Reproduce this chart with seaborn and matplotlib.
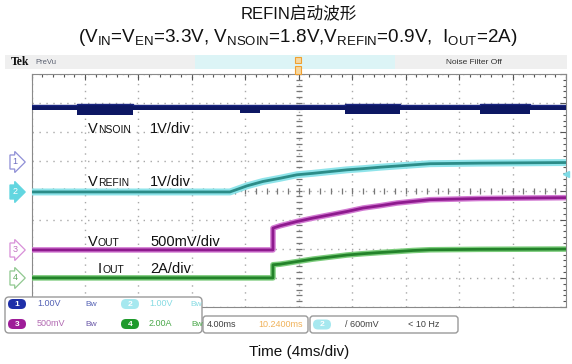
import numpy as np
import pandas as pd
import matplotlib
matplotlib.use("Agg")
import matplotlib.pyplot as plt
import seaborn as sns
from matplotlib.patches import FancyBboxPatch, Rectangle

# ---------------- data ----------------
# time in ms relative to screen centre (4 ms/div, 10 div)
t_refin = [-20, -5.15, -3.87, -2.68, -1.40, -0.13, 1.07, 2.34, 3.61, 4.81, 6.08, 8.55, 9.82, 13.56, 20]
v_refin = [0.0, 0.0, 0.21, 0.36, 0.47, 0.59, 0.64, 0.70, 0.76, 0.80, 0.85, 0.93, 0.97, 0.99, 1.01]

t_vout = [-20, -1.93, -1.93, -1.40, -0.13, 1.07, 2.34, 3.61, 4.81, 6.08, 7.35, 8.55, 9.82, 13.56, 20]
v_vout = [0.0, 0.0, 0.374, 0.414, 0.488, 0.547, 0.603, 0.660, 0.719, 0.759, 0.805, 0.833, 0.862, 0.883, 0.897]

t_iout = [-20, -1.93, -1.93, -1.40, -0.13, 1.07, 2.34, 3.61, 4.81, 6.08, 7.35, 8.55, 9.82, 13.56, 20]
i_iout = [0.0, 0.0, 0.90, 0.94, 1.12, 1.29, 1.43, 1.57, 1.66, 1.74, 1.81, 1.88, 1.93, 1.96, 1.98]

t_nsoin = [-20, -16.6, -16.6, -12.4, -12.4, -4.4, -4.4, -2.9, -2.9, 3.46, 3.46, 7.58, 7.58,
           13.56, 13.56, 17.3, 17.3, 20]
v_nsoin_hi = [1.94, 1.94, 1.98, 1.98, 1.94, 1.94, 1.97, 1.97, 1.94, 1.94, 1.98, 1.98, 1.94,
              1.94, 1.99, 1.99, 1.94, 1.94]
v_nsoin_lo = [1.77, 1.77, 1.62, 1.62, 1.77, 1.77, 1.68, 1.68, 1.77, 1.77, 1.66, 1.66, 1.77,
              1.77, 1.66, 1.66, 1.77, 1.77]

# channel settings: units per division and ground-reference position (div)
ch_scale = {"NSOIN": 1.0, "REFIN": 1.0, "VOUT": 0.5, "IOUT": 2.0}
ch_offset = {"NSOIN": 0.98, "REFIN": -0.05, "VOUT": -2.04, "IOUT": -3.0}
trigger_level = 0.6  # V on channel 2

# ---------------- style ----------------
sns.set_theme(style="white")
plt.rcParams["font.family"] = ["Liberation Sans", "Noto Sans CJK SC", "DejaVu Sans"]
plt.rcParams["mathtext.fontset"] = "custom"
plt.rcParams["mathtext.rm"] = "Liberation Sans"
plt.rcParams["mathtext.it"] = "Liberation Sans:italic"
plt.rcParams["mathtext.bf"] = "Liberation Sans:bold"

W, H = 572, 364
fig = plt.figure(figsize=(W / 100, H / 100), dpi=100)
fig.patch.set_facecolor("white")

# main graticule axes
L, R, T, B = 31.5, 566.0, 74.0, 307.0
ax = fig.add_axes([L / W, 1 - B / H, (R - L) / W, (B - T) / H])
ax.set_xlim(-20, 20)
ax.set_ylim(-4, 4)
ax.set_facecolor("white")
ax.set_xticks(np.arange(-20, 21, 4))
ax.set_yticks(np.arange(-4, 5, 1))
ax.set_xticks(np.arange(-20, 20.01, 0.8), minor=True)
ax.set_yticks(np.arange(-4, 4.01, 0.2), minor=True)
ax.set_xticklabels([])
ax.set_yticklabels([])
ax.tick_params(which="both", direction="in", top=True, right=True, color="#555555", width=0.8)
ax.tick_params(which="major", length=4)
ax.tick_params(which="minor", length=2.5)
for s in ax.spines.values():
    s.set_color("#8a8a8a")
    s.set_linewidth(0.8)
ax.grid(True, which="major", color="#a8a8a8", linestyle=(0, (1, 4)), linewidth=1.0)

# centre crosshair ticks
cx = np.arange(-20, 20.01, 0.8)
cy = np.arange(-4, 4.01, 0.2)
ax.plot(cx, np.zeros_like(cx), ls="", marker="|", ms=5, color="#777777", mew=0.9, zorder=1)
ax.plot(np.zeros_like(cy), cy, ls="", marker="_", ms=5, color="#777777", mew=0.9, zorder=1)


def to_div(vals, ch):
    return np.asarray(vals, dtype=float) / ch_scale[ch] + ch_offset[ch]


# VNSOIN band (channel 1)
df1 = pd.DataFrame({"t": t_nsoin, "hi": to_div(v_nsoin_hi, "NSOIN"), "lo": to_div(v_nsoin_lo, "NSOIN")})
ax.fill_between(df1["t"], df1["lo"], df1["hi"], color="#0d1763", lw=0, zorder=3)
sns.lineplot(data=df1, x="t", y="hi", ax=ax, color="#1a2680", lw=1.0, estimator=None, sort=False, zorder=3)

# VREFIN (channel 2)
df2 = pd.DataFrame({"t": t_refin, "y": to_div(v_refin, "REFIN")})
sns.lineplot(data=df2, x="t", y="y", ax=ax, color="#8fe4ea", lw=5, estimator=None, sort=False, zorder=3)
sns.lineplot(data=df2, x="t", y="y", ax=ax, color="#2c8c88", lw=2.0, estimator=None, sort=False, zorder=4)

# VOUT (channel 3)
df3 = pd.DataFrame({"t": t_vout, "y": to_div(v_vout, "VOUT")})
sns.lineplot(data=df3, x="t", y="y", ax=ax, color="#d27ad2", lw=4, estimator=None, sort=False, zorder=3)
sns.lineplot(data=df3, x="t", y="y", ax=ax, color="#8e1a8e", lw=2.0, estimator=None, sort=False, zorder=4)

# IOUT (channel 4)
df4 = pd.DataFrame({"t": t_iout, "y": to_div(i_iout, "IOUT")})
sns.lineplot(data=df4, x="t", y="y", ax=ax, color="#7ccc7c", lw=4, estimator=None, sort=False, zorder=3)
sns.lineplot(data=df4, x="t", y="y", ax=ax, color="#23822a", lw=2.0, estimator=None, sort=False, zorder=4)

# trigger level marker on the right edge
ax.plot([20], [trigger_level / ch_scale["REFIN"] + ch_offset["REFIN"]], marker="<", ms=5,
        color="#7fdbe6", clip_on=False, zorder=6)
ax.set_xlabel("")
ax.set_ylabel("")

# ---------------- overlay in pixel coordinates ----------------
ov = fig.add_axes([0, 0, 1, 1], zorder=5)
ov.set_xlim(0, W)
ov.set_ylim(H, 0)
ov.axis("off")


def rich(px, py, pieces, size, subsize, color="#111111"):
    """Draw text pieces on one baseline; pieces = [(text, is_sub), ...]."""
    prev = None
    for txt, is_sub in pieces:
        fs = subsize if is_sub else size
        if prev is None:
            prev = ov.annotate(txt, xy=(px, py), xycoords="data", fontsize=fs,
                               va="baseline", color=color)
        else:
            prev = ov.annotate(txt, xy=(1, py), xycoords=(prev, "data"), fontsize=fs,
                               va="baseline", color=color)
    return prev


# header band
ov.add_patch(Rectangle((5, 55), 562, 14, fc="#efefef", ec="none"))
ov.add_patch(Rectangle((195, 55), 200, 14, fc="#dcf4f6", ec="none"))
ov.text(11, 62, "Tek", fontsize=8.5, fontweight="bold", family="Liberation Serif", va="center", color="#111111")
ov.text(35, 62, "PreVu", fontsize=5.5, va="center", color="#5a6070")
ov.text(474, 62, "Noise Filter Off", fontsize=6, va="center", ha="center", color="#303030")
# trigger position marker
ov.add_patch(Rectangle((295, 57), 6, 6, fc="#f7d8a0", ec="#f0a030", lw=0.8))
ov.add_patch(Rectangle((295, 66), 6, 8, fc="#f7d8a0", ec="#f0a030", lw=0.8))

# channel ground markers
markers = [("1", 162, "white", "#8f8fd6", "#6d6dc0"),
           ("2", 192, "#62d6e0", "#62d6e0", "white"),
           ("3", 250, "white", "#d890d8", "#c070c0"),
           ("4", 278, "white", "#90c890", "#60a860")]
for lab, py, fc, ec, tc in markers:
    ov.text(15, py, lab, fontsize=6.5, ha="center", va="center", color=tc,
            bbox=dict(boxstyle="rarrow,pad=0.28", fc=fc, ec=ec, lw=0.9))

# trace annotations (small-caps style subscripts on the same baseline)
rich(88, 133, [("V", False), ("NSOIN", True)], 10.5, 7.5)
ov.text(150, 133, "1V/div", fontsize=10.5, va="baseline", color="#111111")
rich(88, 186, [("V", False), ("REFIN", True)], 10.5, 7.5)
ov.text(150, 186, "1V/div", fontsize=10.5, va="baseline", color="#111111")
rich(88, 246, [("V", False), ("OUT", True)], 10.5, 7.5)
ov.text(150, 246, "500mV/div", fontsize=10.5, va="baseline", color="#111111")
rich(98, 273, [("I", False), ("OUT", True)], 10.5, 7.5)
ov.text(150, 273, "2A/div", fontsize=10.5, va="baseline", color="#111111")

# readout boxes
ov.add_patch(FancyBboxPatch((5, 297), 197, 36, boxstyle="round,pad=0,rounding_size=4",
                            fc="white", ec="#9a9a9a", lw=1.0))
ov.add_patch(FancyBboxPatch((203, 316), 105, 17, boxstyle="round,pad=0,rounding_size=3",
                            fc="white", ec="#9a9a9a", lw=1.0))
ov.add_patch(FancyBboxPatch((310, 316), 148, 17, boxstyle="round,pad=0,rounding_size=3",
                            fc="white", ec="#9a9a9a", lw=1.0))


def pill(px, py, lab, fc):
    ov.add_patch(FancyBboxPatch((px, py - 5), 18, 10, boxstyle="round,pad=0,rounding_size=5",
                                fc=fc, ec="none"))
    ov.text(px + 9, py, lab, fontsize=6, ha="center", va="center", color="white", fontweight="bold")


pill(8, 304, "1", "#1f2fa8")
ov.text(37, 304, "1.00V", fontsize=6.5, va="center", color="#5563b5")
ov.text(85, 304, "Bw", fontsize=6, va="center", color="#5563b5")
pill(121, 304, "2", "#a6e8ef")
ov.text(149, 304, "1.00V", fontsize=6.5, va="center", color="#86dbe3")
ov.text(190, 304, "Bw", fontsize=6, va="center", color="#86dbe3")

pill(8, 324, "3", "#9e1c98")
ov.text(37, 324, "500mV", fontsize=6.5, va="center", color="#b26ab2")
ov.text(85, 324, "Bw", fontsize=6, va="center", color="#6a58a8")
pill(121, 324, "4", "#1f9a2c")
ov.text(149, 324, "2.00A", fontsize=6.5, va="center", color="#4aa84a")
ov.text(191, 324, "Bw", fontsize=6, va="center", color="#4aa84a")

ov.text(207, 324.5, "4.00ms", fontsize=6.5, va="center", color="#404040")
ov.text(258, 324.5, "10.2400ms", fontsize=6.5, va="center", color="#f0b25a")
pill(313, 324.5, "2", "#a6e8ef")
ov.text(345, 324.5, "/ 600mV", fontsize=6.5, va="center", color="#404040")
ov.text(408, 324.5, "< 10 Hz", fontsize=6.5, va="center", color="#404040")

# titles and axis caption
ov.text(299, 14, "REFIN启动波形", fontsize=12, ha="center", va="center", color="#111111")
ov.text(298, 37,
        r"(V$_{\mathrm{IN}}$=V$_{\mathrm{EN}}$=3.3V, V$_{\mathrm{NSOIN}}$=1.8V,V$_{\mathrm{REFIN}}$=0.9V,  I$_{\mathrm{OUT}}$=2A)",
        fontsize=13.6, ha="center", va="center", color="#111111")
ov.text(299, 352, "Time (4ms/div)", fontsize=11, ha="center", va="center", color="#111111")

fig.savefig("out.png", dpi=100)
